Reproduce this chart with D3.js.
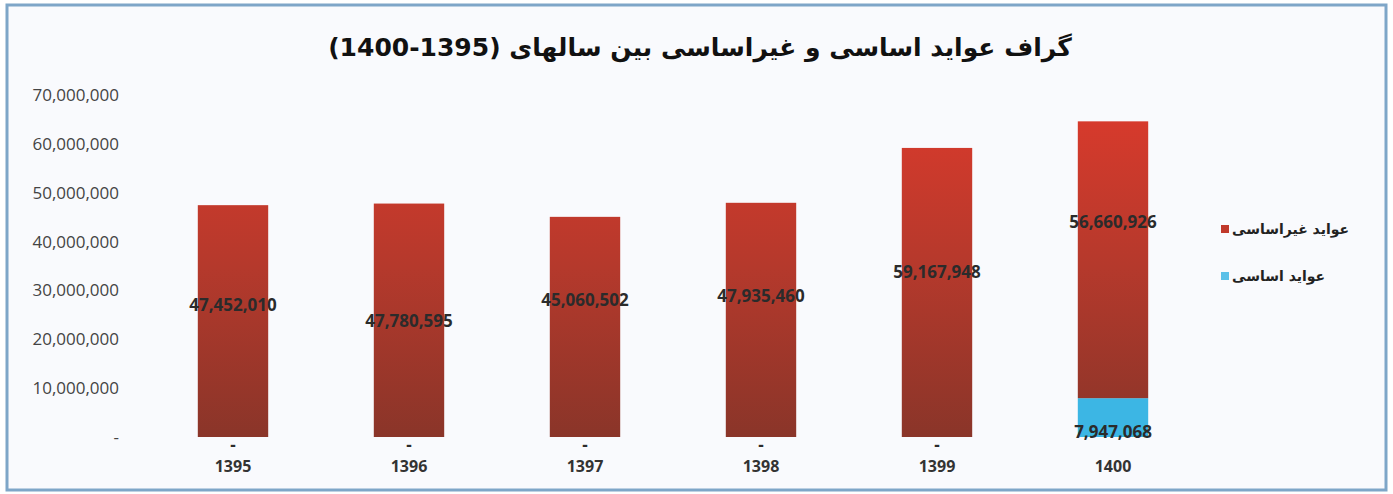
<!DOCTYPE html>
<html>
<head>
<meta charset="utf-8">
<script src="https://cdn.jsdelivr.net/npm/d3@7"></script>
<style>
  html, body { margin: 0; padding: 0; background: #fff; }
  svg { display: block; }
</style>
</head>
<body>
<div id="main"></div>
<script>
// data
const years = ["1395", "1396", "1397", "1398", "1399", "1400"];
const basic = [0, 0, 0, 0, 0, 7947068];            // عواید اساسی
const nonBasic = [47452010, 47780595, 45060502, 47935460, 59167948, 56660926]; // عواید غیراساسی
const yTicks = [0, 10000000, 20000000, 30000000, 40000000, 50000000, 60000000, 70000000];
const seriesNames = ["عواید غیراساسی", "عواید اساسی"];
const title = "گراف عواید اساسی و غیراساسی بین سالهای (1395-1400)";

// label nudges (px) - labels were hand placed in the original
const labelNudge = [-16, 1, -27, -24, -20, -38];

const width = 1393, height = 494;
const margin = {left: 145, top: 95, right: 192, bottom: 57};

const svg = d3.select("#main").append("svg")
    .attr("width", width)
    .attr("height", height);

const defs = svg.append("defs");
const grad = defs.append("linearGradient")
    .attr("id", "redGrad")
    .attr("gradientUnits", "userSpaceOnUse")
    .attr("x1", 0).attr("x2", 0)
    .attr("y1", margin.top).attr("y2", height - margin.bottom);
grad.append("stop").attr("offset", "0%").attr("stop-color", "#dc3a2c");
grad.append("stop").attr("offset", "50%").attr("stop-color", "#b5392c");
grad.append("stop").attr("offset", "100%").attr("stop-color", "#8a3529");

// frame
svg.append("rect")
    .attr("x", 7).attr("y", 5)
    .attr("width", width - 14).attr("height", height - 9)
    .attr("fill", "#f9fafd")
    .attr("stroke", "#7ea6c8")
    .attr("stroke-width", 3);

const x = d3.scaleBand()
    .domain(years)
    .range([margin.left, width - margin.right])
    .paddingInner(0.6)
    .paddingOuter(0.3);

const y = d3.scaleLinear()
    .domain([0, 70000000])
    .range([height - margin.bottom, margin.top]);

const fmt = d3.format(",");

// title
svg.append("text")
    .attr("x", 700).attr("y", 56)
    .attr("text-anchor", "middle")
    .attr("direction", "rtl")
    .attr("font-family", "DejaVu Sans, sans-serif")
    .attr("font-weight", "bold")
    .attr("font-size", 25)
    .attr("fill", "#111")
    .text(title);

// y axis
const yAxis = svg.append("g")
    .attr("transform", `translate(${margin.left - 26},0)`)
    .call(d3.axisLeft(y).tickValues(yTicks).tickSize(0).tickPadding(0)
        .tickFormat(d => d === 0 ? "-" : fmt(d)));
yAxis.select(".domain").remove();
yAxis.selectAll("text")
    .attr("font-family", "Open Sans, sans-serif")
    .attr("font-size", 17)
    .attr("fill", "#444");

// x axis
const xAxis = svg.append("g")
    .attr("transform", `translate(0,${height - margin.bottom})`)
    .call(d3.axisBottom(x).tickSize(0).tickPadding(24));
xAxis.select(".domain").remove();
xAxis.selectAll("text")
    .attr("font-family", "Open Sans, sans-serif")
    .attr("font-weight", "bold")
    .attr("font-size", 16)
    .attr("fill", "#333");

// bars
const bw = x.bandwidth();
svg.append("g").selectAll("rect.basic")
    .data(years)
    .join("rect")
    .attr("class", "basic")
    .attr("x", d => x(d))
    .attr("width", bw)
    .attr("y", (d, i) => y(basic[i]))
    .attr("height", (d, i) => y(0) - y(basic[i]))
    .attr("fill", "#3cb6e4");

svg.append("g").selectAll("rect.nonbasic")
    .data(years)
    .join("rect")
    .attr("class", "nonbasic")
    .attr("x", d => x(d))
    .attr("width", bw)
    .attr("y", (d, i) => y(basic[i] + nonBasic[i]))
    .attr("height", (d, i) => y(basic[i]) - y(basic[i] + nonBasic[i]))
    .attr("fill", "url(#redGrad)");

// labels non-basic
svg.append("g").selectAll("text")
    .data(years)
    .join("text")
    .attr("x", d => x(d) + bw / 2)
    .attr("y", (d, i) => (y(basic[i]) + y(basic[i] + nonBasic[i])) / 2 + labelNudge[i])
    .attr("dy", "0.35em")
    .attr("text-anchor", "middle")
    .attr("font-family", "Open Sans, sans-serif")
    .attr("font-weight", "bold")
    .attr("font-size", 17)
    .attr("fill", "#2b2b2b")
    .text((d, i) => fmt(nonBasic[i]));

// labels basic
svg.append("g").selectAll("text")
    .data(years)
    .join("text")
    .attr("x", d => x(d) + bw / 2)
    .attr("y", (d, i) => basic[i] === 0 ? y(0) + 8 : y(0) - 5)
    .attr("dy", "0.35em")
    .attr("text-anchor", "middle")
    .attr("font-family", "Open Sans, sans-serif")
    .attr("font-weight", "bold")
    .attr("font-size", 17)
    .attr("fill", "#2b2b2b")
    .text((d, i) => basic[i] === 0 ? "-" : fmt(basic[i]));

// legend
const legend = svg.append("g");
const legColors = ["#c0392b", "#5bc0e8"];
seriesNames.forEach((name, i) => {
    const ly = 229 + i * 47;
    legend.append("rect")
        .attr("x", 1221).attr("y", ly - 4)
        .attr("width", 8).attr("height", 8)
        .attr("fill", legColors[i]);
    legend.append("text")
        .attr("x", 1232).attr("y", ly)
        .attr("dy", "0.35em")
        .attr("text-anchor", "start")
        .attr("font-family", "DejaVu Sans, sans-serif")
        .attr("font-weight", "bold")
        .attr("font-size", 14)
        .attr("fill", "#222")
        .text(name);
});
</script>
</body>
</html>
